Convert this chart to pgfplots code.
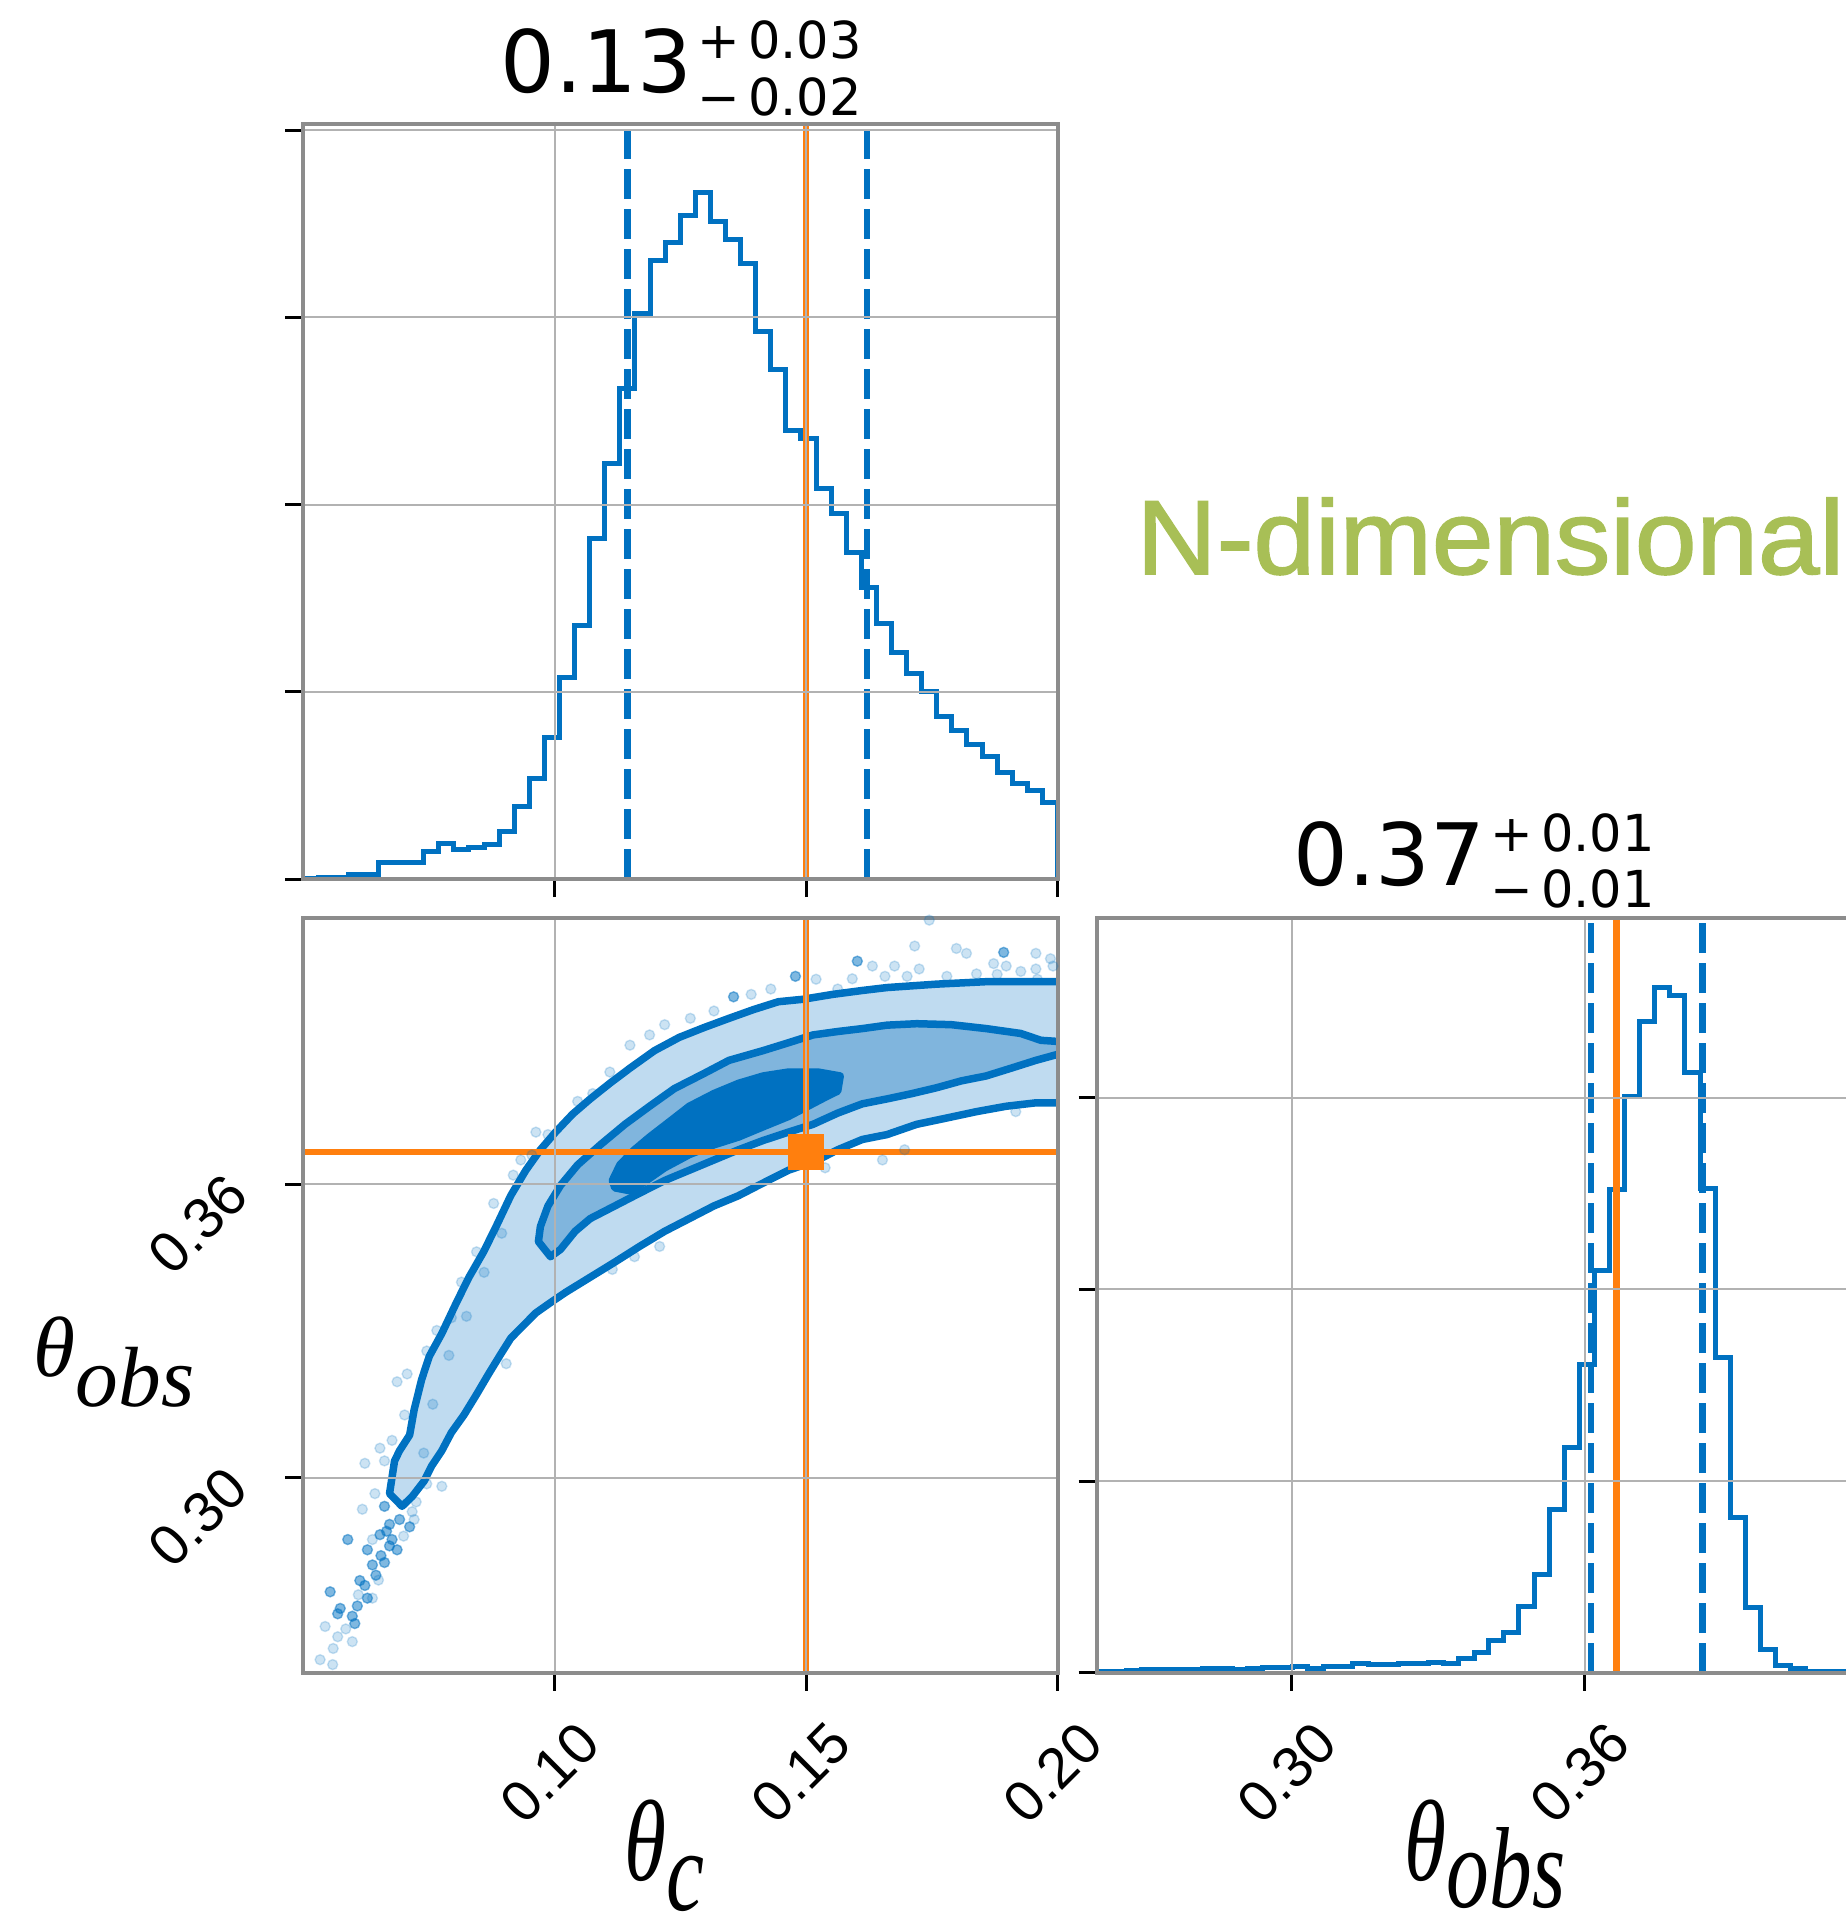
\documentclass[border=0pt]{standalone}
\usepackage{fontspec}
\setmainfont{Liberation Sans}
\newfontfamily\dejavu{DejaVu Sans}
\newfontfamily\timesf{Liberation Serif}
\newfontfamily\ndim[RawFeature={embolden=1.5}]{Liberation Sans}
\usepackage{pgfplots}
\pgfplotsset{compat=1.18}
\definecolor{cblue}{RGB}{0,113,193}
\definecolor{clight}{RGB}{191,219,240}
\definecolor{cmid}{RGB}{128,181,221}
\definecolor{corange}{RGB}{255,127,14}
\definecolor{cgreen}{RGB}{168,191,86}
\definecolor{axgray}{RGB}{140,140,140}
\definecolor{gridgray}{RGB}{178,178,178}
\pgfplotsset{
  cornerax/.style={
    scale only axis, width=7.545cm, height=7.547cm,
    axis line style={draw=axgray, line width=0.04cm},
    grid=major, major grid style={draw=gridgray, line width=0.02cm},
    tick align=outside, major tick length=0.18cm,
    tick style={black, line width=0.03cm},
    xtick pos=left, ytick pos=left,
    axis on top,
    tick label style={font=\fontsize{16.3}{16.3}\selectfont},
    xticklabel style={anchor=center, xshift=-0.05cm, yshift=-0.82cm, rotate=45},
    yticklabel style={anchor=center, xshift=-0.87cm, yshift=-0.40cm, rotate=45},
  },
  histline/.style={const plot, draw=cblue, line width=0.05cm, mark=none},
  qline/.style={draw=cblue, line width=0.065cm, dash pattern=on 0.3cm off 0.1cm},
  truth/.style={draw=corange, line width=0.065cm},
  cont/.style={draw=cblue, line width=0.075cm, line join=round},
  dotsl/.style={only marks, mark=*, mark size=0.05cm, color=cblue, opacity=0.2},
  dotsd/.style={only marks, mark=*, mark size=0.05cm, color=cblue, opacity=0.5},
}
\newcommand{\scr}[1]{{\fontsize{14.5}{14.5}\selectfont #1}}
\begin{document}
\begin{tikzpicture}
% ---------------- top-left: theta_c histogram
\begin{axis}[cornerax, at={(3.03cm,10.358cm)}, anchor=south west,
  xmin=0.05, xmax=0.20, ymin=0, ymax=4.03,
  xtick={0.10,0.15,0.20}, ytick={0,1,2,3,4},
  xticklabels={}, yticklabels={}]
\addplot[histline] coordinates {
(0.050,0) (0.050,0.003) (0.053,0.011) (0.056,0.011) (0.059,0.027) (0.062,0.027)
(0.065,0.087) (0.068,0.087) (0.071,0.087) (0.074,0.147) (0.077,0.191)
(0.080,0.158) (0.083,0.169) (0.086,0.185) (0.089,0.253) (0.092,0.387)
(0.095,0.540) (0.098,0.755) (0.101,1.076) (0.104,1.357) (0.107,1.820)
(0.110,2.221) (0.113,2.619) (0.116,3.019) (0.119,3.305) (0.122,3.401)
(0.125,3.542) (0.128,3.668) (0.131,3.510) (0.134,3.414) (0.137,3.286)
(0.140,2.924) (0.143,2.719) (0.146,2.398) (0.149,2.351) (0.152,2.087)
(0.155,1.951) (0.158,1.747) (0.161,1.556) (0.164,1.365) (0.167,1.213)
(0.170,1.098) (0.173,1.003) (0.176,0.866) (0.179,0.793) (0.182,0.717)
(0.185,0.657) (0.188,0.572) (0.191,0.512) (0.194,0.471) (0.197,0.409)
(0.200,0.409) (0.200,0)};
\addplot[qline] coordinates {(0.1145,0) (0.1145,4.03)};
\addplot[qline] coordinates {(0.1621,0) (0.1621,4.03)};
\addplot[truth] coordinates {(0.15,0) (0.15,4.03)};
\end{axis}
% ---------------- bottom-left: 2D
\begin{axis}[cornerax, at={(3.03cm,2.421cm)}, anchor=south west,
  xmin=0.05, xmax=0.20, ymin=0.26, ymax=0.4145,
  xtick={0.10,0.15,0.20}, ytick={0.30,0.36},
  xticklabels={0.10,0.15,0.20}, yticklabels={0.30,0.36}]
\addplot[dotsl] coordinates {
(0.0569,0.2674) (0.0544,0.2695) (0.0638,0.2873) (0.0721,0.2914) (0.0618,0.2935) (0.0643,0.2967)
(0.0638,0.2753) (0.0534,0.2627) (0.0559,0.2617) (0.0598,0.2664) (0.0623,0.3029) (0.0662,0.3034)
(0.0653,0.3060) (0.0677,0.3076) (0.0687,0.3196) (0.0707,0.3212) (0.0702,0.3128) (0.0746,0.2987)
(0.0776,0.2982) (0.0717,0.2930) (0.0746,0.3259) (0.0766,0.3301) (0.0795,0.3327) (0.0815,0.3400)
(0.0845,0.3462) (0.0879,0.3561) (0.0904,0.3233) (0.0918,0.3619) (0.0933,0.3650) (0.0963,0.3707)
(0.0987,0.3702) (0.1046,0.3770) (0.1076,0.3786) (0.1150,0.3885) (0.1189,0.3906) (0.1219,0.3927)
(0.1317,0.3955) (0.1391,0.3989) (0.1563,0.4000) (0.1592,0.4021)
(0.1632,0.4047) (0.1676,0.4047) (0.1701,0.4026) (0.1716,0.4088) (0.1725,0.4041)
(0.1745,0.4141) (0.1799,0.4083) (0.1819,0.4073) (0.1873,0.4052) (0.1898,0.4047)
(0.1927,0.4036) (0.1957,0.4073) (0.1957,0.4041) (0.1986,0.4062) (0.1991,0.4047) (0.1839,0.4031)
(0.1780,0.4026) (0.1657,0.4026) (0.1538,0.3634) (0.1652,0.3650) (0.1696,0.3671) (0.1917,0.3749)
(0.1209,0.3473) (0.1159,0.3452) (0.1115,0.3426) (0.0560,0.2650) (0.0585,0.2690) (0.0610,0.2760)
(0.0650,0.2790) (0.0700,0.2880) (0.0725,0.2950) (0.0740,0.3050) (0.0758,0.3150) (0.0790,0.3250)
(0.0825,0.3330) (0.0860,0.3420) (0.0895,0.3500) (0.0955,0.3660) (0.1110,0.3830) (0.1270,0.3940)
(0.1430,0.4000) (0.1520,0.4020) (0.1880,0.4030) (0.1960,0.4020)};
\addplot[dotsd] coordinates {
(0.0554,0.2766) (0.0574,0.2732) (0.0603,0.2701) (0.0589,0.2873) (0.0613,0.2789) (0.0628,0.2852)
(0.0638,0.2821) (0.0662,0.2826) (0.0653,0.2883) (0.0677,0.2873) (0.0687,0.2852) (0.0692,0.2914)
(0.0712,0.2899) (0.0662,0.2941) (0.0672,0.2904) (0.0623,0.2779) (0.0608,0.2737) (0.0628,0.2753)
(0.0672,0.2860) (0.0666,0.2890) (0.0645,0.2800) (0.0655,0.2840) (0.0569,0.2721) (0.0598,0.2716)
(0.1356,0.3984) (0.1479,0.4026) (0.1602,0.4057) (0.1893,0.4075)};
% outer contour
\addplot[cont, fill=clight] coordinates {
(0.0672,0.2967) (0.0682,0.3034) (0.0692,0.3055) (0.0712,0.3087) (0.0721,0.3139) (0.0736,0.3201)
(0.0751,0.3248) (0.0776,0.3295) (0.0805,0.3358) (0.0830,0.3410) (0.0859,0.3462) (0.0884,0.3514)
(0.0913,0.3577) (0.0943,0.3629) (0.0972,0.3671) (0.1002,0.3707) (0.1036,0.3744) (0.1071,0.3775)
(0.1110,0.3807) (0.1150,0.3838) (0.1199,0.3874) (0.1248,0.3901) (0.1297,0.3921) (0.1347,0.3940)
(0.1396,0.3958) (0.1445,0.3974) (0.1494,0.3979) (0.1553,0.3989) (0.1612,0.3997) (0.1661,0.4003)
(0.1760,0.4010) (0.1858,0.4015) (0.2010,0.4015) (0.2010,0.3767)
(0.1957,0.3767) (0.1898,0.3760) (0.1839,0.3749) (0.1780,0.3736) (0.1720,0.3723) (0.1661,0.3702)
(0.1612,0.3692) (0.1563,0.3671) (0.1524,0.3650) (0.1465,0.3629) (0.1415,0.3603) (0.1366,0.3577)
(0.1317,0.3556) (0.1268,0.3530) (0.1219,0.3504) (0.1169,0.3473) (0.1120,0.3441) (0.1071,0.3410)
(0.1022,0.3379) (0.0992,0.3358) (0.0963,0.3337) (0.0933,0.3306) (0.0913,0.3285) (0.0894,0.3254)
(0.0869,0.3212) (0.0845,0.3170) (0.0820,0.3128) (0.0795,0.3092) (0.0776,0.3055) (0.0756,0.3024)
(0.0741,0.2993) (0.0717,0.2961) (0.0697,0.2941)} --cycle;
% middle contour
\addplot[cont, fill=cmid] coordinates {
(0.0968,0.3483) (0.0972,0.3514) (0.0987,0.3556) (0.1012,0.3598) (0.1046,0.3640) (0.1091,0.3681)
(0.1140,0.3723) (0.1189,0.3760) (0.1238,0.3796) (0.1297,0.3827) (0.1347,0.3854) (0.1415,0.3874)
(0.1465,0.3890) (0.1514,0.3906) (0.1563,0.3913) (0.1612,0.3919) (0.1661,0.3926) (0.1720,0.3929)
(0.1789,0.3927) (0.1858,0.3919) (0.1927,0.3909) (0.1967,0.3895) (0.2010,0.3892) (0.2010,0.3869)
(0.1957,0.3854) (0.1908,0.3838) (0.1858,0.3822) (0.1809,0.3812) (0.1760,0.3798) (0.1711,0.3786)
(0.1661,0.3775) (0.1612,0.3765) (0.1563,0.3746) (0.1514,0.3723) (0.1465,0.3707) (0.1415,0.3690)
(0.1366,0.3671) (0.1317,0.3650) (0.1268,0.3629) (0.1219,0.3608) (0.1169,0.3582) (0.1120,0.3556)
(0.1071,0.3530) (0.1041,0.3504) (0.1012,0.3467) (0.0992,0.3452)} --cycle;
% inner contour
\addplot[cont, fill=cblue] coordinates {
(0.1115,0.3608) (0.1130,0.3640) (0.1159,0.3671) (0.1189,0.3697) (0.1228,0.3728) (0.1268,0.3760)
(0.1317,0.3786) (0.1366,0.3807) (0.1415,0.3822) (0.1465,0.3830) (0.1524,0.3830) (0.1568,0.3822)
(0.1563,0.3791) (0.1543,0.3781) (0.1504,0.3760) (0.1465,0.3739) (0.1415,0.3718) (0.1366,0.3697)
(0.1317,0.3681) (0.1268,0.3661) (0.1219,0.3634) (0.1169,0.3598) (0.1150,0.3587) (0.1120,0.3593)} --cycle;
\addplot[truth] coordinates {(0.15,0.26) (0.15,0.4145)};
\addplot[truth] coordinates {(0.05,0.3666) (0.20,0.3666)};
\addplot[only marks, mark=square*, mark size=0.175cm, color=corange] coordinates {(0.15,0.3666)};
\end{axis}
% ---------------- bottom-right: theta_obs histogram
\begin{axis}[cornerax, at={(10.965cm,2.421cm)}, anchor=south west,
  xmin=0.26, xmax=0.4145, ymin=0, ymax=3.936,
  xtick={0.30,0.36}, ytick={0,1,2,3},
  xticklabels={0.30,0.36}, yticklabels={}]
\addplot[histline] coordinates {
(0.2600,0) (0.2600,0.008) (0.2631,0.008) (0.2662,0.010) (0.2693,0.016) (0.2724,0.016)
(0.2755,0.016) (0.2785,0.016) (0.2816,0.021) (0.2847,0.021) (0.2878,0.019)
(0.2909,0.024) (0.2940,0.029) (0.2971,0.029) (0.3002,0.032) (0.3033,0.024)
(0.3064,0.032) (0.3094,0.032) (0.3125,0.048) (0.3156,0.043) (0.3187,0.043)
(0.3218,0.048) (0.3249,0.048) (0.3280,0.053) (0.3311,0.048) (0.3342,0.074)
(0.3373,0.106) (0.3403,0.168) (0.3434,0.213) (0.3465,0.346) (0.3496,0.513)
(0.3527,0.851) (0.3558,1.176) (0.3589,1.609) (0.3620,2.101) (0.3651,2.519)
(0.3682,3.005) (0.3712,3.399) (0.3743,3.577) (0.3774,3.532) (0.3805,3.133)
(0.3836,2.527) (0.3867,1.644) (0.3898,0.811) (0.3929,0.340) (0.3960,0.120)
(0.3991,0.040) (0.4021,0.021) (0.4052,0.008) (0.4083,0.008) (0.4114,0.005)
(0.4145,0.005)};
\addplot[qline] coordinates {(0.3613,0) (0.3613,3.936)};
\addplot[qline] coordinates {(0.3841,0) (0.3841,3.936)};
\addplot[truth] coordinates {(0.3665,0) (0.3665,3.936)};
\end{axis}
% ---------------- titles and labels
\node[anchor=base west, inner sep=0pt] at (5.00,18.223) {\dejavu\fontsize{24.5}{24.5}\selectfont 0.13\hspace{0.05cm}\makebox[0pt][l]{\raisebox{0.34cm}{\scr{+\hspace{0.08cm}0.03}}}\raisebox{-0.23cm}{\scr{−\hspace{0.08cm}0.02}}};
\node[anchor=base west, inner sep=0pt] at (12.93,10.29) {\dejavu\fontsize{24.5}{24.5}\selectfont 0.37\hspace{0.05cm}\makebox[0pt][l]{\raisebox{0.34cm}{\scr{+\hspace{0.08cm}0.01}}}\raisebox{-0.22cm}{\scr{−\hspace{0.08cm}0.01}}};
\node[anchor=base west, inner sep=0pt, text=cgreen] at (11.36,13.41) {\scalebox{1.05}[1]{\ndim\fontsize{30}{30}\selectfont N-dimensional}};
\node[anchor=base west, inner sep=0pt] at (0.33,5.38) {\timesf\itshape\fontsize{24.3}{24.3}\selectfont θ\raisebox{-0.30cm}{obs}};
\node[anchor=base west, inner sep=0pt] at (6.24,0.34) {\scalebox{1}[1.35]{\timesf\itshape\fontsize{24.3}{24.3}\selectfont θ\raisebox{-0.22cm}{c}}};
\node[anchor=base west, inner sep=0pt] at (14.04,0.34) {\scalebox{1}[1.35]{\timesf\itshape\fontsize{24.3}{24.3}\selectfont θ\raisebox{-0.20cm}{obs}}};
\pgfresetboundingbox
\useasboundingbox (0,0) rectangle (18.45,19.15);
\end{tikzpicture}
\end{document}
